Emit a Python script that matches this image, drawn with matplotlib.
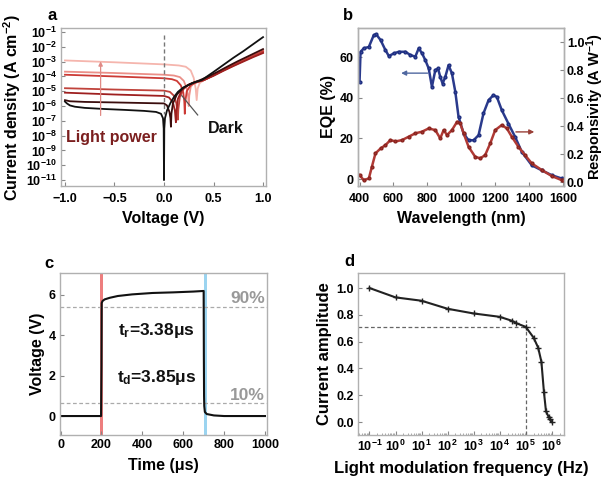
import numpy as np
import matplotlib
matplotlib.use("Agg")
import matplotlib.pyplot as plt

plt.rcParams['font.family'] = ['Liberation Sans', 'DejaVu Sans']
plt.rcParams['font.weight'] = 'bold'
plt.rcParams['axes.labelweight'] = 'bold'
plt.rcParams['mathtext.fontset'] = 'custom'
plt.rcParams['mathtext.rm'] = 'Liberation Sans:bold'
plt.rcParams['mathtext.bf'] = 'Liberation Sans:bold'
plt.rcParams['mathtext.it'] = 'Liberation Sans:bold:italic'
plt.rcParams['mathtext.default'] = 'bf'

# ---------------- Panel a: J-V curves ----------------
dark_V = [-1.0, -0.98, -0.95, -0.9, -0.8, -0.6, -0.4, -0.2, -0.08, -0.03, -0.01, -0.003, 0.0,
          0.003, 0.01, 0.03, 0.065, 0.1, 0.14, 0.19, 0.24, 0.3, 0.38, 0.5, 0.6, 0.7, 0.8, 0.9, 1.0]
dark_J = [2e-6, 1.5e-6, 1.1e-6, 9e-7, 7.5e-7, 6.3e-7, 5.5e-7, 4.7e-7, 4e-7, 3e-7, 1.5e-7, 3e-8, 1e-11,
          3e-8, 1.5e-7, 5e-7, 1.6e-6, 4e-6, 9e-6, 1.7e-5, 2.5e-5, 3.8e-5, 5.6e-5, 2e-4, 6e-4, 1.8e-3, 5e-3, 1.5e-2, 4.5e-2]

l1_V = [-1.0, -0.95, -0.8, -0.5, 0.0, 0.03, 0.055, 0.065, 0.07, 0.075, 0.09, 0.13, 0.2, 0.28, 0.36, 0.45, 0.55, 0.65, 0.75, 0.85, 1.0]
l1_J = [2.5e-6, 2.1e-6, 1.9e-6, 1.75e-6, 1.5e-6, 1.1e-6, 4e-7, 1.5e-7, 4e-8, 3e-7, 1.5e-6, 6e-6, 1.8e-5, 3.5e-5, 5.5e-5, 1e-4, 2.2e-4, 5e-4, 1.1e-3, 2.3e-3, 7e-3]

l2_V = [-1.0, -0.5, 0.0, 0.05, 0.09, 0.11, 0.115, 0.12, 0.125, 0.14, 0.18, 0.24, 0.32, 0.4, 0.5, 0.6, 0.7, 0.8, 0.9, 1.0]
l2_J = [8e-6, 6e-6, 4.8e-6, 3.8e-6, 1.8e-6, 5e-7, 2e-7, 8e-8, 4e-7, 3e-6, 1.2e-5, 2.6e-5, 4.2e-5, 5.6e-5, 1.1e-4, 2.4e-4, 5e-4, 1e-3, 2e-3, 3.8e-3]

l3_V = [-1.0, -0.5, 0.0, 0.06, 0.1, 0.125, 0.135, 0.14, 0.145, 0.16, 0.2, 0.25, 0.32, 0.4, 0.5, 0.6, 0.7, 0.8, 0.9, 1.0]
l3_J = [1.6e-5, 1.3e-5, 1.1e-5, 9e-6, 5e-6, 1.5e-6, 4e-7, 1.2e-7, 6e-7, 4e-6, 1.5e-5, 2.8e-5, 4.2e-5, 5.6e-5, 1.15e-4, 2.5e-4, 5.3e-4, 1.1e-3, 2.2e-3, 4.2e-3]

l4_V = [-1.0, -0.5, 0.0, 0.08, 0.13, 0.17, 0.195, 0.205, 0.21, 0.215, 0.23, 0.27, 0.33, 0.4, 0.5, 0.6, 0.7, 0.8, 0.9, 1.0]
l4_J = [1.3e-4, 1e-4, 7.5e-5, 6.5e-5, 5e-5, 2.5e-5, 8e-6, 2e-6, 3e-7, 2e-6, 1e-5, 2.6e-5, 4e-5, 5.5e-5, 1.2e-4, 2.7e-4, 5.8e-4, 1.2e-3, 2.5e-3, 5e-3]

l5_V = [-1.0, -0.5, 0.0, 0.1, 0.16, 0.2, 0.23, 0.245, 0.25, 0.255, 0.27, 0.3, 0.4, 0.5, 0.6, 0.7, 0.8, 0.9, 1.0]
l5_J = [2.1e-4, 1.7e-4, 1.3e-4, 1.15e-4, 9e-5, 5e-5, 1.5e-5, 4e-6, 1e-6, 5e-6, 2e-5, 3.5e-5, 5.5e-5, 1.25e-4, 2.9e-4, 6.2e-4, 1.3e-3, 2.7e-3, 5.5e-3]

l6_V = [-1.0, -0.5, 0.0, 0.15, 0.22, 0.27, 0.30, 0.32, 0.33, 0.34, 0.36, 0.40, 0.5, 0.6, 0.7, 0.8, 0.9, 1.0]
l6_J = [1.2e-3, 9e-4, 6.5e-4, 5.5e-4, 4.5e-4, 2.5e-4, 8e-5, 1.5e-5, 2.5e-6, 1.5e-5, 3.5e-5, 5.5e-5, 1.3e-4, 3e-4, 6.5e-4, 1.4e-3, 3e-3, 6e-3]

a_ytick_exps = list(range(-11, 0))
a_xticks = [-1.0, -0.5, 0.0, 0.5, 1.0]

# ---------------- Panel b: EQE & responsivity ----------------
eqe_wl = [400, 406, 425, 455, 484, 498, 524, 553, 573, 602, 631, 671, 700, 729, 749, 769, 788, 808, 827,
          847, 863, 876, 890, 906, 925, 945, 965, 984, 1014, 1043, 1073, 1102, 1131, 1161, 1190, 1210,
          1239, 1278, 1318, 1357, 1416, 1475, 1534, 1592, 1600]
eqe_val = [47.8, 62.6, 64.3, 65.0, 70.8, 71.2, 68.4, 63.4, 60.5, 61.8, 62.6, 62.6, 61.0, 60.2, 64.3, 61.8,
           58.5, 54.4, 45.4, 53.6, 54.4, 50.3, 47.0, 50.3, 56.0, 52.0, 42.9, 30.6, 22.4, 19.1, 19.1, 21.6,
           32.3, 38.8, 41.3, 40.4, 33.9, 27.3, 20.7, 13.4, 6.8, 4.3, 1.9, 0.3, 0.2]

res_wl = [400, 425, 455, 473, 494, 524, 553, 582, 612, 651, 690, 729, 769, 808, 847, 876, 896, 916, 945,
          975, 994, 1014, 1043, 1082, 1112, 1141, 1171, 1200, 1239, 1269, 1298, 1337, 1376, 1416, 1475,
          1534, 1592, 1600]
res_val = [0.05, 0.014, 0.026, 0.11, 0.205, 0.24, 0.264, 0.30, 0.29, 0.30, 0.324, 0.348, 0.36, 0.383,
           0.371, 0.312, 0.371, 0.336, 0.371, 0.43, 0.419, 0.348, 0.252, 0.181, 0.169, 0.193, 0.276,
           0.371, 0.407, 0.383, 0.324, 0.252, 0.193, 0.133, 0.086, 0.043, 0.014, 0.012]

# ---------------- Panel c: transient response ----------------
time_us = [0, 100, 198, 200, 201, 203, 205, 215, 240, 280, 350, 450, 550, 650, 700, 701, 702, 703,
           706, 715, 750, 800, 900, 1000]
volt = [0, 0, 0, 2.5, 5.6, 5.65, 5.7, 5.78, 5.86, 5.95, 6.03, 6.10, 6.13, 6.17, 6.2, 3.0, 1.0, 0.5,
        0.2, 0.1, 0.03, 0, 0, 0]
rise_time = 200
fall_time = 708
v90 = 5.42
v10 = 0.63

# ---------------- Panel d: frequency response ----------------
freq = [0.1, 1, 10, 100, 1000, 1e4, 3e4, 4.4e4, 1e5, 2e5, 3e5, 4e5, 5e5, 6e5, 7.5e5, 8.5e5, 1e6]
amp = [1.0, 0.93, 0.905, 0.845, 0.81, 0.785, 0.755, 0.737, 0.71, 0.63, 0.555, 0.45, 0.225, 0.08, 0.04, 0.02, 0.0]
f3db = 1e5
a3db = 0.707
d_xtick_exps = list(range(-1, 7))

# ---------------- Figure ----------------
W, H = 607, 482
fig = plt.figure(figsize=(W / 100, H / 100), dpi=100)

def px_axes(l, r, t, b):
    return fig.add_axes([l / W, 1 - b / H, (r - l) / W, (b - t) / H])

spine_c = '#b0b0b0'
TICK = 9
LAB = 11.5

def style(ax, xpad=3):
    for s in ax.spines.values():
        s.set_color(spine_c)
        s.set_linewidth(1.0)
    ax.tick_params(direction='in', length=3, width=0.8, color='#888888', labelsize=TICK, pad=3)
    ax.tick_params(axis='x', pad=xpad)
    ax.tick_params(which='minor', direction='in', length=1.5, width=0.6, color='#999999')

# Panel a
axa = px_axes(61, 266, 28, 186)
style(axa, xpad=5)
axa.set_yscale('log')
cols = ['#3a0d0d', '#9e1f1f', '#c0433c', '#cc3a35', '#eb8f88', '#f5b5ad']
curves = [(l6_V, l6_J), (l5_V, l5_J), (l4_V, l4_J), (l3_V, l3_J), (l2_V, l2_J), (l1_V, l1_J)]
for (v, j), c in zip(curves, cols[::-1]):
    axa.plot(v, j, color=c, lw=1.3)
axa.plot(dark_V, dark_J, color='#111111', lw=1.3)
axa.plot([0, 0], [6e-2, 3e-7], ls='--', color='#777777', lw=1.0, dashes=(3, 2))
axa.annotate('', xy=(-0.64, 1.6e-3), xytext=(-0.64, 1.5e-7),
             arrowprops=dict(arrowstyle='-|>', color='#e08a85', lw=0.9, mutation_scale=6))
axa.plot([0.34, 0.18], [2.5e-7, 5e-6], color='#555555', lw=0.9)
axa.text(-0.53, 10 ** -8.1, 'Light power', color='#7b1f1f', fontsize=11.5, ha='center', va='center')
axa.text(0.62, 10 ** -7.5, 'Dark', color='#111111', fontsize=11.5, ha='center', va='center')
axa.set_xlim(-1.04, 1.03)
axa.set_ylim(10 ** -11.4, 10 ** -0.73)
axa.set_yticks([10.0 ** e for e in a_ytick_exps])
axa.set_yticklabels([r'$10^{%d}$' % e for e in a_ytick_exps])
axa.yaxis.set_minor_locator(matplotlib.ticker.NullLocator())
axa.set_xticks(a_xticks)
axa.set_xticklabels(['%.1f' % x if x >= 0 else '\u2212%.1f' % abs(x) for x in a_xticks])
axa.set_xlabel('Voltage (V)', fontsize=LAB, labelpad=4)
axa.set_ylabel(r'Current density (A cm$^{-2}$)', fontsize=LAB, labelpad=2)

# Panel b
axb = px_axes(358, 564, 28, 186)
style(axb, xpad=5)
axb.plot(eqe_wl, eqe_val, color='#2a3a8c', lw=1.8, marker='o', ms=2.0, mfc='#3a4aa0', mec='#1f2f80')
axb.set_xlim(391, 1606)
axb.set_ylim(-3.4, 74.3)
axb.set_xticks([400, 600, 800, 1000, 1200, 1400, 1600])
axb.set_yticks([0, 20, 40, 60])
axb.set_xlabel('Wavelength (nm)', fontsize=LAB, labelpad=4)
axb.set_ylabel('EQE (%)', fontsize=LAB, labelpad=3)
axb2 = axb.twinx()
style(axb2)
axb2.tick_params(axis='y', pad=2)
axb2.plot(res_wl, res_val, color='#b03a35', lw=1.8, marker='o', ms=2.0, mfc='#a83530', mec='#8a2520')
axb2.set_ylim(-0.028, 1.1)
axb2.set_yticks([0.0, 0.2, 0.4, 0.6, 0.8, 1.0])
axb2.set_yticklabels(['%.1f' % y for y in [0.0, 0.2, 0.4, 0.6, 0.8, 1.0]])
axb2.set_ylabel(r'Responsivity (A W$^{-1}$)', fontsize=10.5, labelpad=0)
axb.annotate('', xy=(629, 52.1), xytext=(818, 52.1),
             arrowprops=dict(arrowstyle='-|>', color='#5068a0', lw=1.0, mutation_scale=7))
axb.annotate('', xy=(1447, 23.2), xytext=(1306, 23.2),
             arrowprops=dict(arrowstyle='-|>', color='#9a4038', lw=1.0, mutation_scale=7))

# Panel c
axc = px_axes(60, 267, 273, 435)
style(axc)
axc.axvspan(rise_time - 7, rise_time + 7, color='#ec7070', alpha=0.9, lw=0)
axc.axvspan(fall_time - 7, fall_time + 7, color='#90d0ef', alpha=0.9, lw=0)
axc.axhline(v90, color='#aaaaaa', lw=0.9, ls='--', dashes=(3, 2))
axc.axhline(v10, color='#aaaaaa', lw=0.9, ls='--', dashes=(3, 2))
axc.plot(time_us, volt, color='#111111', lw=1.5)
axc.text(916, 5.85, '90%', color='#999999', fontsize=12.5, ha='center', va='center')
axc.text(916, 1.04, '10%', color='#999999', fontsize=12.5, ha='center', va='center')
axc.text(470, 4.26, r't$_{r}$=3.38μs', color='#111111', fontsize=12.5, ha='center', va='center')
axc.text(470, 1.9, r't$_{d}$=3.85μs', color='#111111', fontsize=12.5, ha='center', va='center')
axc.set_xlim(-3, 1010)
axc.set_ylim(-0.94, 7.09)
axc.set_xticks([0, 200, 400, 600, 800, 1000])
axc.set_yticks([0, 2, 4, 6])
axc.set_xlabel('Time (μs)', fontsize=LAB, labelpad=5)
axc.set_ylabel('Voltage (V)', fontsize=LAB, labelpad=3)

# Panel d
axd = px_axes(358, 564, 273, 435)
style(axd)
axd.set_xscale('log')
axd.plot([10 ** -1.44, 2.2e5], [a3db, a3db], color='#666666', lw=0.9, ls='--', dashes=(3, 2))
axd.plot([f3db, f3db], [-0.1, 0.76], color='#666666', lw=0.9, ls='--', dashes=(3, 2))
axd.plot(freq, amp, color='#222222', lw=1.5, marker='+', ms=4, mew=1.0)
axd.set_xlim(10 ** -1.44, 10 ** 6.47)
axd.set_ylim(-0.097, 1.112)
axd.set_xticks([10.0 ** e for e in d_xtick_exps])
axd.set_xticklabels([r'$10^{%d}$' % e for e in d_xtick_exps])
axd.xaxis.set_minor_locator(matplotlib.ticker.LogLocator(base=10, subs=np.arange(2, 10), numticks=20))
axd.xaxis.set_minor_formatter(matplotlib.ticker.NullFormatter())
axd.set_yticks([0.0, 0.2, 0.4, 0.6, 0.8, 1.0])
axd.set_yticklabels(['%.1f' % y for y in [0.0, 0.2, 0.4, 0.6, 0.8, 1.0]])
axd.set_xlabel('Light modulation frequency (Hz)', fontsize=12, labelpad=5)
axd.set_ylabel('Current amplitude', fontsize=12, labelpad=3)

# Panel letters
for lab, x, y in [('a', 52, 15), ('b', 348, 15), ('c', 49, 263), ('d', 349, 262)]:
    fig.text(x / W, 1 - y / H, lab, fontsize=12, ha='center', va='center')

fig.savefig('out.png', dpi=100)
